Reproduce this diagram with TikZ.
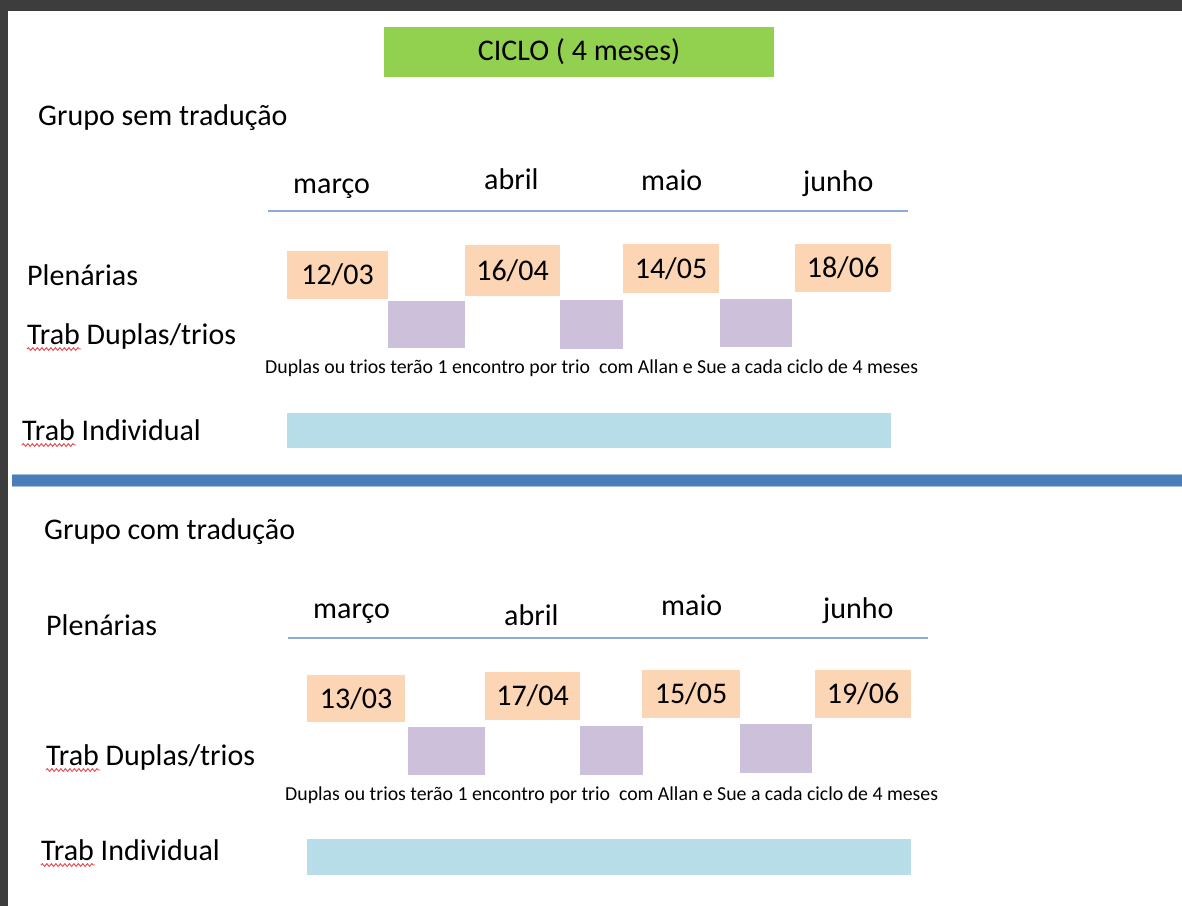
\documentclass[tikz,border=0pt]{standalone}
\usepackage{fontspec}
\setmainfont{Carlito}
\usetikzlibrary{decorations.pathmorphing}

\definecolor{ciclogreen}{HTML}{92D050}
\definecolor{plenpeach}{HTML}{FCD5B4}
\definecolor{duplalilac}{HTML}{CCC0DA}
\definecolor{indivcyan}{HTML}{B7DEE8}
\definecolor{ruleblue}{HTML}{8EAADB}
\definecolor{barblue}{HTML}{4A7EBB}
\definecolor{baredge}{HTML}{A7BFDE}
\definecolor{framegray}{HTML}{3D3D3D}
\definecolor{spellred}{HTML}{E8474F}

\newcommand{\bigtxt}{\fontsize{30}{36}\selectfont}
\newcommand{\smalltxt}{\fontsize{19.8}{24}\selectfont}

\begin{document}
\begin{tikzpicture}[
  x=1pt, y=-1pt,
  label/.style={anchor=base west, inner sep=0pt, font=\bigtxt},
  month/.style={anchor=base west, inner sep=0pt, font=\bigtxt},
  note/.style={anchor=base west, inner sep=0pt, font=\smalltxt},
  plenary/.style={fill=plenpeach, inner sep=0pt, font=\bigtxt, text height=19.5pt, text depth=0pt, minimum height=48},
  pairwork/.style={fill=duplalilac, inner sep=0pt, minimum height=48},
  solowork/.style={fill=indivcyan, inner sep=0pt, minimum width=604, minimum height=35},
  timeline/.style={draw=ruleblue, line width=1.6pt},
  spellmark/.style={draw=spellred, line width=0.9pt, decorate, decoration={snake, amplitude=1.4pt, segment length=4.5pt}}
]

% Page and frame
\useasboundingbox (0,0) rectangle (1182,906);
\fill[white] (0,0) rectangle (1182,906);
\fill[framegray] (0,0) rectangle (1182,11);
\fill[framegray] (0,0) rectangle (8,906);

% Title
\node[fill=ciclogreen, minimum width=390, minimum height=50, font=\bigtxt] (title) at (579,52) {CICLO ( 4 meses)};

%% GRUPO SEM TRADUCAO

\node[label] (grupo1) at (38,125) {Grupo sem tradução};

% Months
\node[month] (marco1) at (293,193) {março};
\node[month] (abril1) at (484,189) {abril};
\node[month] (maio1) at (641,190) {maio};
\node[month] (junho1) at (803,191) {junho};

\coordinate (axis1w) at (268,211);
\coordinate (axis1e) at (908,211);
\draw[timeline] (axis1w) -- (axis1e);

% Plenarias
\node[label] (plen1) at (27,285) {Plenárias};

\node[plenary, minimum width=101] (d1203) at (337.5,275) {12/03};
\node[plenary, minimum width=95, minimum height=51] (d1604) at (512.5,270.5) {16/04};
\node[plenary, minimum width=96, minimum height=49] (d1405) at (671,268.5) {14/05};
\node[plenary, minimum width=96] (d1806) at (843,268) {18/06};

% Duplas/trios
\node[label] (duplas1) at (27,344) {Trab Duplas/trios};
\draw[spellmark] ([yshift=-5pt]duplas1.base west) -- ++(54,0);

\node[pairwork, minimum width=77, minimum height=47] (pw1a) at (426.5,324.5) {};
\node[pairwork, minimum width=63, minimum height=49] (pw1b) at (591.5,324.5) {};
\node[pairwork, minimum width=72] (pw1c) at (756,323) {};

\node[note] (note1) at (265,373) {Duplas ou trios terão 1 encontro por trio\ \ com Allan e Sue a cada ciclo de 4 meses};

% Individual
\node[label] (indiv1) at (22,440) {Trab Individual};
\draw[spellmark] ([yshift=-5pt]indiv1.base west) -- ++(54,0);

\node[solowork] (sw1) at (589,430.5) {};

%% SEPARATOR

\fill[barblue] (12,474) rectangle (1182,486);
\draw[baredge, line width=0.8pt] (12,474) -- (1182,474);
\draw[baredge, line width=0.8pt] (12,486) -- (1182,486);

%% GRUPO COM TRADUCAO

\node[label] (grupo2) at (44,539) {Grupo com tradução};

% Months
\node[month] (marco2) at (313,618) {março};
\node[month] (abril2) at (504,625) {abril};
\node[month] (maio2) at (661,615) {maio};
\node[month] (junho2) at (823,618) {junho};

\coordinate (axis2w) at (288,638);
\coordinate (axis2e) at (928,638);
\draw[timeline] (axis2w) -- (axis2e);

% Plenarias
\node[label] (plen2) at (46,635) {Plenárias};

\node[plenary, minimum width=98, minimum height=47] (d1303) at (356,698.5) {13/03};
\node[plenary, minimum width=95] (d1704) at (532.5,696) {17/04};
\node[plenary, minimum width=98] (d1505) at (691,694) {15/05};
\node[plenary, minimum width=96] (d1906) at (863,694) {19/06};

% Duplas/trios
\node[label] (duplas2) at (46,765) {Trab Duplas/trios};
\draw[spellmark] ([yshift=-5pt]duplas2.base west) -- ++(54,0);

\node[pairwork, minimum width=77] (pw2a) at (446.5,751) {};
\node[pairwork, minimum width=63, minimum height=49] (pw2b) at (611.5,750.5) {};
\node[pairwork, minimum width=72, minimum height=49] (pw2c) at (776,748.5) {};

\node[note] (note2) at (285,800) {Duplas ou trios terão 1 encontro por trio\ \ com Allan e Sue a cada ciclo de 4 meses};

% Individual
\node[label] (indiv2) at (41,860) {Trab Individual};
\draw[spellmark] ([yshift=-5pt]indiv2.base west) -- ++(54,0);

\node[solowork, minimum height=36] (sw2) at (609,856.5) {};

\end{tikzpicture}
\end{document}
